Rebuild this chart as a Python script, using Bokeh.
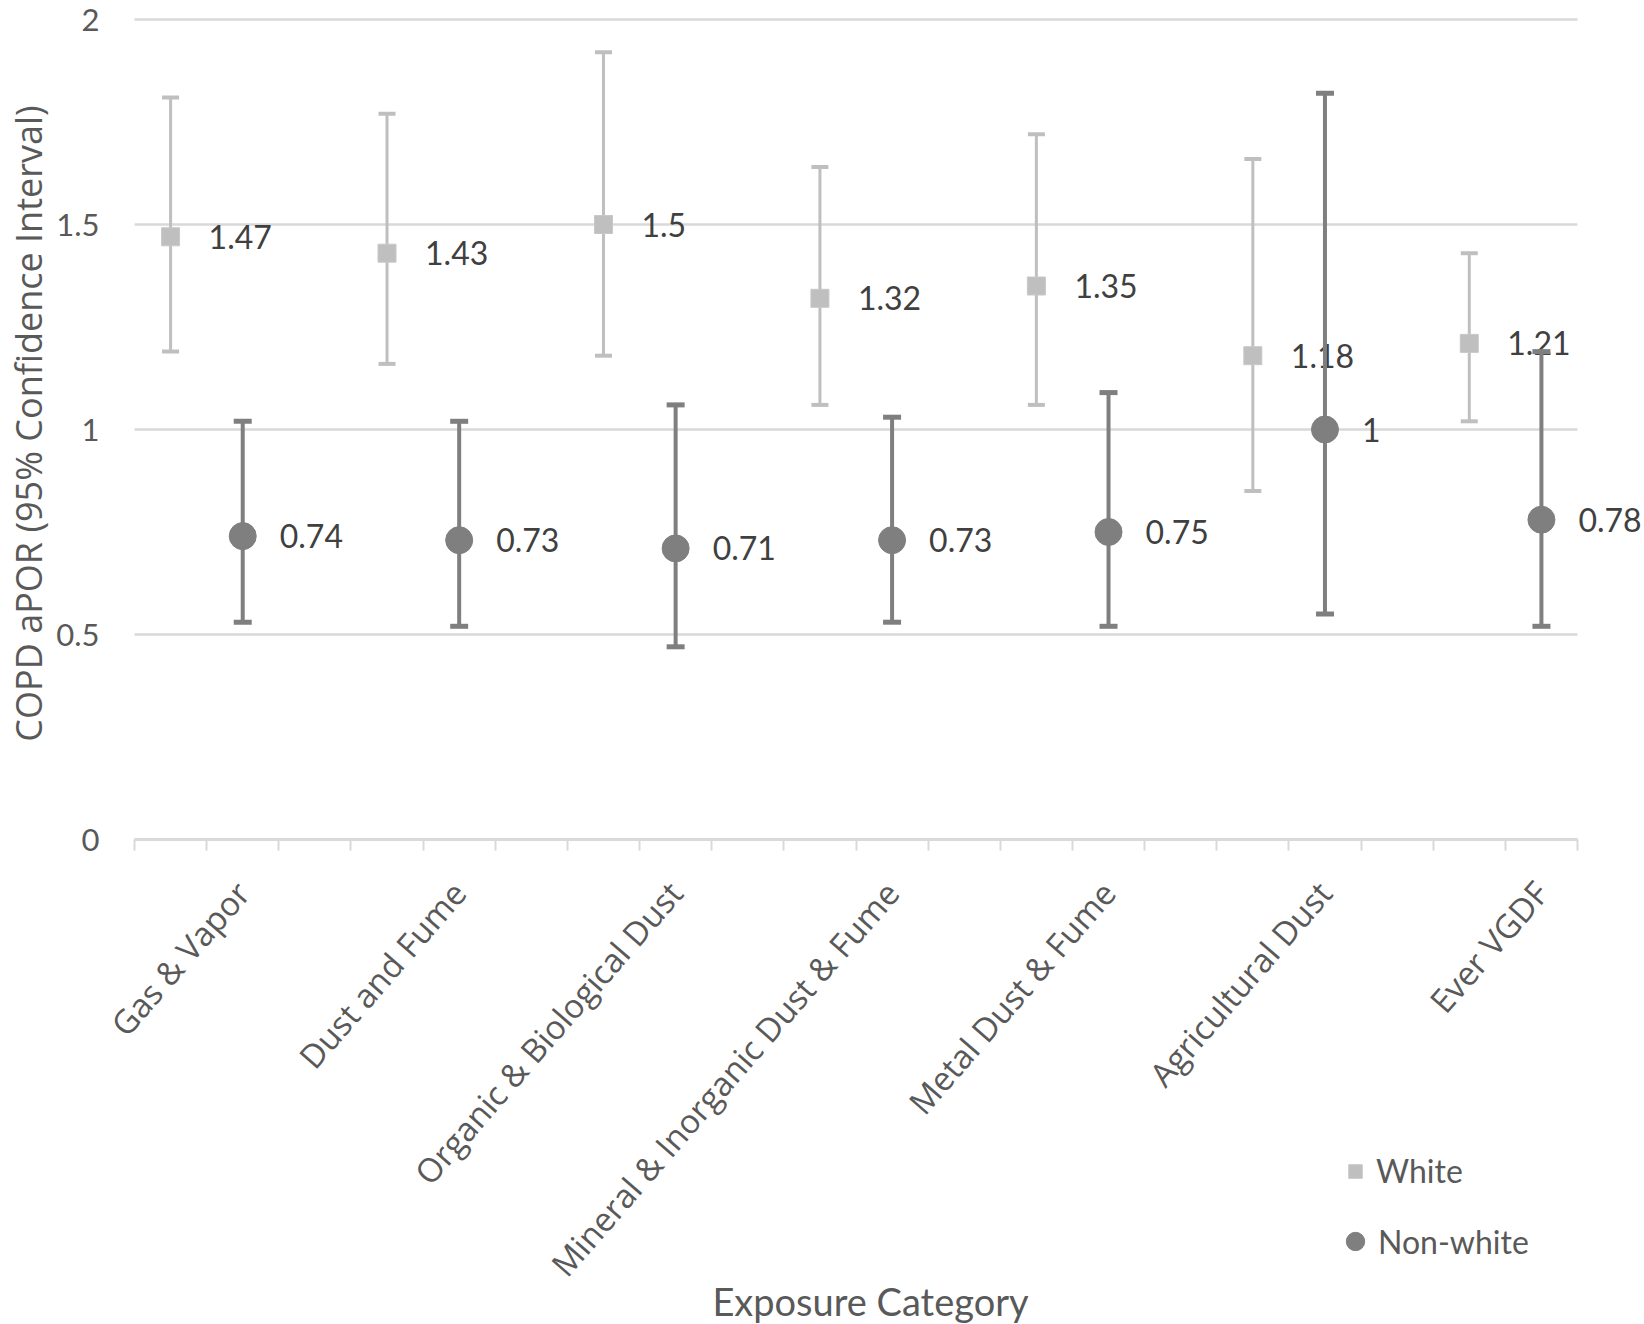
import math
from bokeh.plotting import figure
from bokeh.models import (FixedTicker, CustomJSTickFormatter, ColumnDataSource, Range1d,
                          Label, Legend, LegendItem)
from bokeh.core.properties import value
from bokeh.embed import file_html
from bokeh.resources import INLINE

# ---------------- data ----------------
categories = ["Gas & Vapor", "Dust and Fume", "Organic & Biological Dust",
              "Mineral & Inorganic Dust & Fume", "Metal Dust & Fume",
              "Agricultural Dust", "Ever VGDF"]
white_or = [1.47, 1.43, 1.50, 1.32, 1.35, 1.18, 1.21]
white_lo = [1.19, 1.16, 1.18, 1.06, 1.06, 0.85, 1.02]
white_hi = [1.81, 1.77, 1.92, 1.64, 1.72, 1.66, 1.43]
nonwhite_or = [0.74, 0.73, 0.71, 0.73, 0.75, 1.00, 0.78]
nonwhite_lo = [0.53, 0.52, 0.47, 0.53, 0.52, 0.55, 0.52]
nonwhite_hi = [1.02, 1.02, 1.06, 1.03, 1.09, 1.82, 1.19]
y_ticks = [0, 0.5, 1, 1.5, 2]
series_names = ["White", "Non-white"]
x_title = "Exposure Category"
y_title = "COPD aPOR (95% Confidence Interval)"

# each category takes three slots on a 0..20 axis: white, non-white, gap
n = len(categories)
x_white = [3 * i + 0.5 for i in range(n)]
x_nonwhite = [3 * i + 1.5 for i in range(n)]
x_max = 3 * n - 1
y_max = max(y_ticks)

# ---------------- layout (canvas pixels) ----------------
W, H = 1644, 1324
X0_PX, X1_PX = 134, 1577      # where x = 0 and x = x_max fall
Y0_PX, YT_PX = 839, 19        # where y = 0 and y = y_max fall
ux = x_max / (X1_PX - X0_PX)
uy = y_max / (Y0_PX - YT_PX)
x_start, x_end = -X0_PX * ux, x_max + (W - X1_PX) * ux
y_start, y_end = -(H - Y0_PX) * uy, y_max + YT_PX * uy


def px_x(px):
    return x_start + px * ux


def px_y(py):
    return y_end - py * uy


src_w = ColumnDataSource(dict(x=x_white, y=white_or, lo=white_lo, hi=white_hi,
                              lab=[f"{v:g}" for v in white_or]))
src_n = ColumnDataSource(dict(x=x_nonwhite, y=nonwhite_or, lo=nonwhite_lo, hi=nonwhite_hi,
                              lab=[f"{v:g}" for v in nonwhite_or]))
src_g = ColumnDataSource(dict(y=y_ticks, x0=[0] * len(y_ticks), x1=[x_max] * len(y_ticks)))

LIGHT = "#BFBFBF"
DARK = "#7F7F7F"
TXT = "#404040"
AX = "#595959"
GRID = "#D9D9D9"

p = figure(width=W, height=H, x_range=Range1d(x_start, x_end), y_range=Range1d(y_start, y_end),
           output_backend="svg", toolbar_location=None,
           min_border_left=0, min_border_right=0, min_border_top=0, min_border_bottom=0)
p.outline_line_color = None
p.background_fill_color = "white"
p.border_fill_color = "white"
p.xgrid.visible = False
p.ygrid.visible = False

# horizontal gridlines spanning the category axis only
p.segment(x0="x0", y0="y", x1="x1", y1="y", source=src_g, line_color=GRID, line_width=2.5)

# y axis (drawn at x = 0)
p.yaxis.fixed_location = 0
p.yaxis.bounds = (0, y_max)
p.yaxis.ticker = FixedTicker(ticks=y_ticks)
p.yaxis.formatter = CustomJSTickFormatter(code="return tick.toString();")
p.yaxis.axis_line_color = None
p.yaxis.major_tick_line_color = None
p.yaxis.minor_tick_line_color = None
p.yaxis.major_tick_out = 0
p.yaxis.major_label_standoff = 35
p.yaxis.major_label_text_font = "Lato"
p.yaxis.major_label_text_font_size = "31px"
p.yaxis.major_label_text_color = AX

# x axis (drawn at y = 0)
p.xaxis.fixed_location = 0
p.xaxis.bounds = (0, x_max)
p.xaxis.ticker = FixedTicker(ticks=x_nonwhite, minor_ticks=list(range(0, x_max + 1)))
p.xaxis.formatter = CustomJSTickFormatter(args=dict(labels=categories),
                                          code="return labels[Math.round((tick - 1.5) / 3)];")
p.xaxis.axis_line_color = GRID
p.xaxis.axis_line_width = 3
p.xaxis.major_tick_line_color = None
p.xaxis.minor_tick_line_color = GRID
p.xaxis.minor_tick_line_width = 2
p.xaxis.minor_tick_out = 11
p.xaxis.minor_tick_in = 0
p.xaxis.major_tick_out = 11
p.xaxis.major_tick_in = 0
p.xaxis.major_label_orientation = math.radians(49)
p.xaxis.major_label_standoff = 36
p.xaxis.major_label_text_font = "Open Sans"
p.xaxis.major_label_text_font_size = "33px"
p.xaxis.major_label_text_color = AX

# axis titles
p.add_layout(Label(x=px_x(28), y=px_y(423), text=y_title, angle=math.pi / 2,
                   text_align="center", text_baseline="middle", text_font="Open Sans",
                   text_font_size="36px", text_color=AX))
p.add_layout(Label(x=px_x(870), y=px_y(1300), text=x_title,
                   text_align="center", text_baseline="middle", text_font="Lato",
                   text_font_size="38px", text_color=AX))

# White series
p.segment(x0="x", y0="lo", x1="x", y1="hi", source=src_w, line_color=LIGHT, line_width=3)
p.scatter(x="x", y="lo", source=src_w, marker="dash", size=17, line_color=LIGHT, line_width=4)
p.scatter(x="x", y="hi", source=src_w, marker="dash", size=17, line_color=LIGHT, line_width=4)
r_white = p.scatter(x="x", y="y", source=src_w, marker="square", size=18,
                    fill_color=LIGHT, line_color="#C8C8C8", line_width=1)
p.text(x="x", y="y", text="lab", source=src_w, x_offset=38, text_align="left",
       text_baseline="middle", text_font=value("Lato"), text_font_size="32px", text_color=TXT)

# Non-white series
p.segment(x0="x", y0="lo", x1="x", y1="hi", source=src_n, line_color=DARK, line_width=4)
p.scatter(x="x", y="lo", source=src_n, marker="dash", size=18, line_color=DARK, line_width=5)
p.scatter(x="x", y="hi", source=src_n, marker="dash", size=18, line_color=DARK, line_width=5)
r_non = p.scatter(x="x", y="y", source=src_n, marker="circle", size=27,
                  fill_color=DARK, line_color=DARK)
p.text(x="x", y="y", text="lab", source=src_n, x_offset=37, text_align="left",
       text_baseline="middle", text_font=value("Lato"), text_font_size="32px", text_color=TXT)

# legend: one entry per box so each marker can have its own size
# (location = left edge / bottom edge in screen px from the frame's lower-left corner)
leg_specs = [  # renderer, glyph box, marker centre (px)
    (r_white, 34, (1355, 1173)),
    (r_non, 46, (1355, 1241)),
]
for (rend, box, (cx, cy)), name in zip(leg_specs, series_names):
    left = cx - box // 2
    bottom = H - (cy + box // 2)
    p.add_layout(Legend(items=[LegendItem(label=name, renderers=[rend])],
                        location=(left, bottom), orientation="vertical",
                        padding=0, margin=0, spacing=0, glyph_width=box, glyph_height=box,
                        label_height=30, label_standoff=1376 - (left + box),
                        label_text_font="Lato", label_text_font_size="32px",
                        label_text_color=AX, border_line_color=None,
                        background_fill_alpha=0))

open("out.html", "w").write(file_html(p, INLINE))
